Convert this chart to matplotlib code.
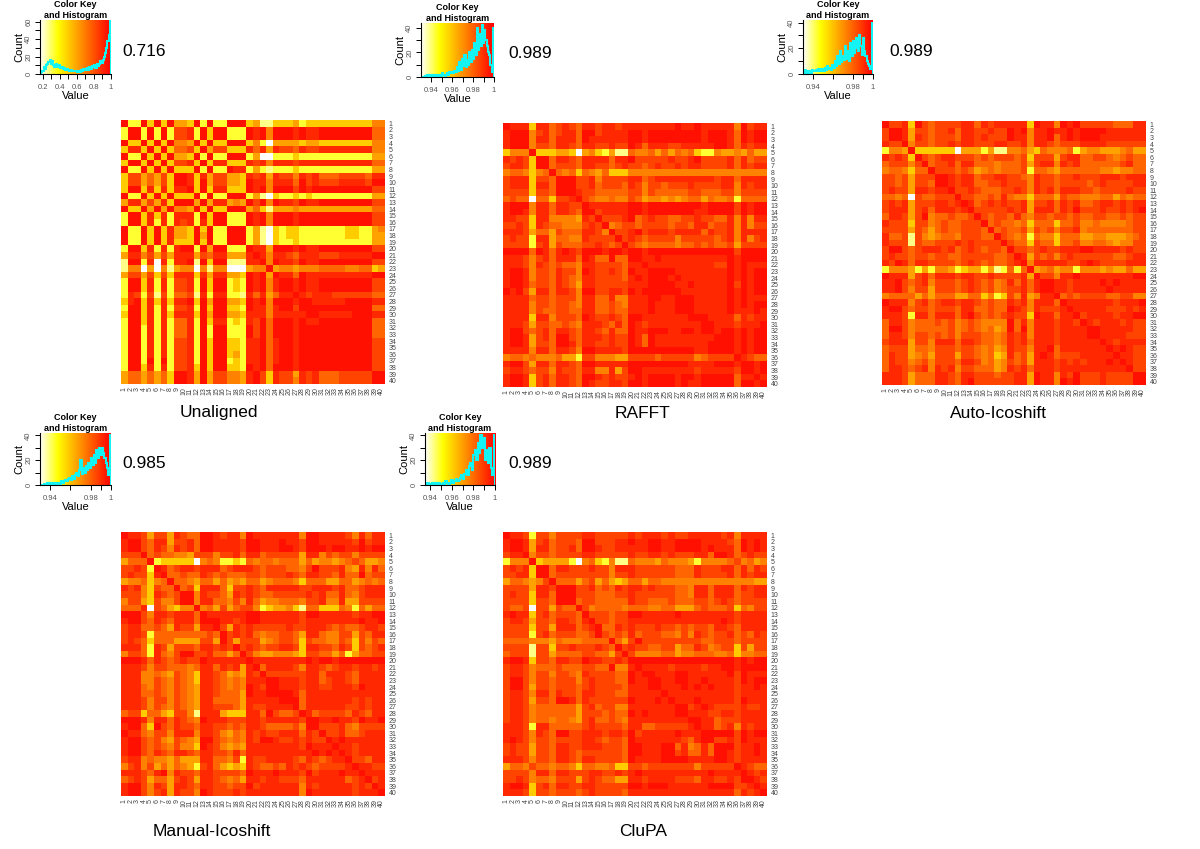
import numpy as np
import matplotlib
matplotlib.use("Agg")
import matplotlib.pyplot as plt
from matplotlib.colors import LinearSegmentedColormap

plt.rcParams['font.family'] = ['Liberation Sans', 'DejaVu Sans']

# correlation levels: 0 = red (r=1) ... 9 = white (lowest r)
unaligned = [
"0770606055 6070770006 5886665766 6666666644",
"7007070722 1706007770 1040001011 0000000033",
"7007070722 1706007770 1040001011 0000000033",
"0660606044 5060660006 4795555655 6666666644",
"6116060633 2605226661 3151223122 1111111144",
"0770606055 6070770007 5997776777 7777777755",
"6006060622 1606116661 2141112111 1111111133",
"0770606066 6070770117 5787776777 7777777755",
"6225352600 1615225561 2151224121 3332222311",
"6225352600 1605225560 1141113021 2221111200",
"6006161611 0606116660 1040002010 0000000022",
"0770606066 6070770007 5896776767 7777777755",
"5115251600 0505115450 2040112011 0000000022",
"0660505044 5060660005 3685554555 5555555533",
"7006161711 1706007770 1040001000 0000000022",
"7006171712 1716007770 1040001000 0000000022",
"0770606155 6060770007 5896766777 7777667754",
"0770606155 6050770007 5896766777 7777667755",
"0770606166 6060770007 5896776777 7777777755",
"7006171710 0705007770 1150001011 0000000022",
"5114252511 1523115551 0141123111 2221111100",
"8007191711 0806008881 1040112011 0000000022",
"8449594854 4948449995 4405445444 3333443365",
"5225262611 1615115560 1050113011 1111111100",
"7006171722 1706007670 1041001011 0000000022",
"7006171722 1706007670 1041001011 0000000022",
"7127282733 2817117781 3153110121 1122222233",
"6106161611 0605005560 1040001001 1111000011",
"7006171722 1706006670 1141002000 0000000033",
"6006171611 1605005561 1141111100 1111100011",
"7006171733 1706117671 2030001011 0000000033",
"7007171733 1707007770 2030001000 0000000033",
"7007171733 1707007770 2030001000 0000000033",
"7007171722 1706006671 1031001000 0000000022",
"7007171722 1706006671 1031001000 0000000022",
"7007171722 1706006571 1031001000 0000000022",
"7007070722 1706007671 1031001000 0000000022",
"7006171722 1606006670 1030001000 0000000022",
"5335353600 1505224451 0261225121 3332222200",
"5335353600 1505224451 0261224121 3332222200",
]
rafft = [
"0111611321 2311211211 1111110110 1111140211",
"1000421321 1300211110 0100000000 1000130100",
"1000411311 1301111110 0100000000 1000130100",
"1000422311 2311221220 1311122111 1100131211",
"6444066655 6954675883 4435353436 7745545355",
"1212600311 2311113110 2222212210 2222131322",
"2112600322 2311223212 2321221211 2222131211",
"4334643034 3634536664 4444444444 4444444444",
"2111622300 0221422221 1321111111 1121131111",
"2111611300 0221322231 2422322212 2221141211",
"2222622300 0122333332 2423333322 3332242222",
"3233933622 1023443442 3544545433 5344373333",
"1000411311 2201111110 0100000000 1000020100",
"1001411311 2300211110 0100000001 1000020100",
"1122611444 4512022210 3212233221 2233141411",
"2212612334 4421204322 3222232231 1322141422",
"1112533523 3311240221 0211121111 3122141111",
"2122711533 4412222021 2322224222 2232141421",
"2222721523 3322123202 3433334332 3233252222",
"0000301310 1200010010 0100000000 0000020000",
"1112421311 1301330330 0110111111 1111010000",
"1112412323 3411222231 1011111111 1122010111",
"1001422312 2401221230 1100001111 1111010100",
"1001422312 3411222231 0100010111 1111010100",
"1001322312 3511222221 1100001101 1111020100",
"0102511311 2400221120 1000000111 1111010100",
"1111322322 2411331441 1100110001 1111010111",
"1111422322 3411332341 1101110001 1111010100",
"1111423322 3311332331 1101110001 1111011101",
"1111611422 2301221230 0111111100 0111131211",
"1112522332 3411123130 1211111111 0011121110",
"1002321311 2311231330 1100011001 0010010100",
"1001521300 2311121220 1301111111 1100010100",
"1001522300 1311221220 1301111111 1000010100",
"1111411311 2400111120 0000000001 1000010100",
"4334344435 5722444552 2223222224 3222201233",
"1002511311 2300111110 0000000011 1100010010",
"2112322412 2311441520 0111111112 1111120010",
"1001621311 2300121221 0100001001 0000031101",
"1001621311 2301221120 0100001011 0000030010",
]
auto_icoshift = [
"0221602322 2211312111 1160114010 2222233311",
"2001522322 1311221220 1041101101 0000111111",
"2001512322 2311212220 1141103101 0001111111",
"1220422322 1211222112 2141123222 1111222222",
"7445066666 6955575884 4356344437 5445554355",
"1212602321 1222323222 3262225211 3322343233",
"3222420322 1311333433 3252114121 3333332133",
"4334633022 2323543433 3273345333 3334454433",
"2232522200 1211322112 2341223221 2221112111",
"2232522300 1211332212 2241223222 2321222211",
"2122511211 0221233322 1241213111 2232222122",
"3343923322 2022332313 4463335233 4443353433",
"2121522211 2101321212 2152213121 3321121211",
"2111521311 1210222221 2151113120 2221221210",
"3112520433 2332023223 1342232232 3322332322",
"1222622432 3322203233 4363336332 4434444322",
"2222523532 3322230323 3252324221 4333333322",
"1332824543 3422233023 4373446333 5544555432",
"1222823322 2121222202 3362336332 4433454422",
"2002321112 1321232230 2232122111 0011112122",
"2122322322 3322222332 0152324212 2222233211",
"1201311222 2321232332 1041111122 1012222111",
"7444575744 5765575873 7305435447 4445455355",
"0111521311 1211221222 2150224110 1111111100",
"1102321422 2321232431 3131001121 1110101111",
"1102422522 2321232432 2131001121 1111011111",
"4333353533 3553364762 4154110323 2222332244",
"0111421321 1211232331 2141113011 1111121110",
"1002322322 2311332330 1241222101 1111222121",
"1112711311 1310232321 2260113110 2111121100",
"3112433323 2432344440 3141112112 0121112122",
"3002433333 2432343540 3041112111 1001111122",
"3112422323 2422233431 2141112111 1001111222",
"2111522411 1311233431 2131112111 1110121111",
"3222533422 2322343541 2241103111 1111010122",
"3122543522 2522343651 3251013222 1111101122",
"3122432422 2311243542 3251112121 2111010122",
"3112321412 1422333541 2131112111 1111111022",
"1112533311 2311222322 1150114120 2221222200",
"1112533311 2310222222 1150114010 2221222200",
]
manual_icoshift = [
"0112522512 3300121140 1111111400 1111241311",
"1002311522 1300111120 0111011200 1111120211",
"1002312412 1300111120 0111001200 0100110100",
"2220323344 5222422131 1322222511 4232242222",
"5333076666 6943477673 4334333535 4454323554",
"2212701321 1211132111 2322233420 2221451413",
"2122610332 3312323332 2322212311 2231330322",
"5443643033 4533535453 3543334633 3553354343",
"1214623303 2611136221 2311111221 1121332111",
"2224612320 0412235121 2332222212 1331342111",
"4225624420 0411334241 3544333422 1441552222",
"3331923564 4043525322 4765546833 6663473533",
"0002411211 1301111110 0111111200 1111121100",
"1002312311 1300011210 0111111211 1111110110",
"2113323512 2511025121 2222212211 1232332112",
"2112733333 3332302121 3433223511 3442252311",
"2123633355 5522502522 2543223623 3442362423",
"1113712522 2311212021 2322112611 2231262321",
"4223713420 0221335302 4554445622 3353753322",
"0001312321 2201111110 1111111101 0010000000",
"1112422333 4311312151 0311112411 2321121121",
"1114434523 4611235451 2022222211 3111231111",
"1114423423 4611234341 1100111211 3211231111",
"1113423423 4511234340 1200111211 2211120111",
"1113323423 4511233350 1100001311 1111111111",
"1112422423 4511333351 1111000311 1111121211",
"1112423423 4511222351 2211110311 1111221211",
"3226335622 4811156661 1302332013 2222312311",
"0001411312 3401112221 1211111200 1101120110",
"1003602312 2311223231 1233332400 2221342222",
"0113422411 1411245341 2122111312 0221332111",
"1002324523 4500234341 2001221212 2010111111",
"1002323424 4601245451 1111111201 1101121111",
"1002312311 2311223131 1111111110 1010121111",
"2114344535 5511334271 2211112312 3211022311",
"4214253534 5721356561 2332312123 2222101122",
"1112310412 2311222230 1110111202 1110110111",
"3212533521 2511234351 1211222311 1111321021",
"1002412511 2311223220 2111111412 1111121201",
"1002421512 2401222121 1111111401 1111121110",
]
clupa = [
"0112722422 2211222221 2111212211 1112141111",
"1001521322 2300222110 1100110000 1111230101",
"1001511322 1300122111 1100110000 1011130101",
"2110422322 2211222221 2211212221 1300132122",
"7444065555 7943674883 4445344457 4444324354",
"2121600311 2221224111 2222223331 2221131312",
"2211600322 2222224221 2222223331 2222131211",
"5334542033 3532535653 3533444444 4444444455",
"2222511200 0221323121 1212223341 1311131211",
"2122611300 0222333221 2222223341 1311132211",
"2222622300 0322333331 2233323332 2321232222",
"2332922523 3024333343 3344335553 2333263422",
"1011621322 2302223220 0111110111 1111121111",
"2112522311 2310223221 1111111111 1110121111",
"2222622511 1321033121 2221223232 2311231111",
"2222721322 2332023231 3222334241 2322132312",
"3333444534 4433330352 0222222222 3322232222",
"2222822622 1222123021 2233225331 2432262522",
"3222822533 3322335202 4444335443 3344364433",
"1001622311 2201122120 0000000000 0000010100",
"2112433323 3322330441 0111121111 2110010000",
"2112422422 3412222330 1001110011 1111020111",
"2002422322 2421222330 1100110011 0111120100",
"2002522322 2321222231 1100111010 1011121101",
"2112411312 2311222331 1111011111 1111121111",
"2112522300 1312222220 1110101110 1111120111",
"2112433333 3521322441 1111110021 0122221221",
"2112433333 3522232330 1011110011 1221121111",
"2112433433 4521332341 1111111100 1132221111",
"1112711333 3321222231 1332222210 1132141211",
"1112412300 2211121120 2111110111 0000020100",
"1012422322 2211232230 1111111231 0022120111",
"2122522311 2211122230 0111003143 1300021101",
"2122522311 2322222230 0111002133 1300121101",
"1112422311 2311222230 1111000011 1100121111",
"5334233433 4633443662 2322222224 2222201233",
"2222411311 2221122121 0111111111 1011110121",
"2212433422 2521233551 1211112223 1122120012",
"1001621311 2211222220 0100011111 1000022101",
"1112622322 2321222231 1111111111 1111131210",
]

hist_a = [0,2,4,8,6,10,12,14,16,12,15,10,8,12,9,8,10,7,8,6,7,5,6,5,4,4,5,4,3,3,4,2,3,2,5,4,6,5,6,7,5,8,6,9,8,10,7,12,9,11,15,13,16,20,24,30,38,45,62]
hist_b = [0,0,0,1,0,2,1,2,1,1,2,1,0,2,1,2,1,3,2,1,2,3,2,4,3,4,3,5,4,8,5,12,6,15,9,18,8,14,10,20,12,22,15,28,18,40,22,35,25,42,28,38,30,25,20,18,10,4,40]
hist_c = [0,3,1,2,1,2,1,3,2,2,3,2,4,2,3,4,2,5,3,6,4,5,3,7,5,10,6,14,8,18,9,14,11,22,12,18,10,24,14,26,16,20,28,18,30,22,15,28,18,14,10,8,6,4,40]
hist_d = [0,0,0,1,0,2,1,2,0,1,2,1,1,2,1,1,3,2,3,4,3,5,6,4,7,5,8,10,7,12,20,9,14,10,15,12,18,14,22,16,24,18,28,22,30,24,30,26,22,18,14,8,40]
hist_e = [2,1,2,1,0,2,1,2,1,2,1,1,2,1,3,2,1,2,4,2,3,5,3,4,6,8,5,9,12,8,15,18,12,24,28,20,34,26,40,30,38,20,28,18,30,14,8,40]

panel_names = ["Unaligned", "RAFFT", "Auto-Icoshift", "Manual-Icoshift", "CluPA"]
panel_scores = ["0.716", "0.989", "0.989", "0.985", "0.989"]
panel_vmin = [0.17, 0.93, 0.93, 0.93, 0.935]
panel_xticks = [[0.2, 0.4, 0.6, 0.8, 1.0], [0.94, 0.96, 0.98, 1.0], [0.94, 0.98, 1.0], [0.94, 0.98, 1.0], [0.94, 0.96, 0.98, 1.0]]
panel_xlabels = [["0.2", "0.4", "0.6", "0.8", "1"], ["0.94", "0.96", "0.98", "1"], ["0.94", "0.98", "1"], ["0.94", "0.98", "1"], ["0.94", "0.96", "0.98", "1"]]
panel_xminor = [[0.3, 0.5, 0.7, 0.9], [0.95, 0.97, 0.99], [0.96, 0.99], [0.96, 0.99], [0.95, 0.97, 0.99]]
panel_ymax = [62, 44, 42, 42, 42]
panel_yticks = [[0, 20, 40, 60], [0, 20, 40], [0, 20, 40], [0, 20, 40], [0, 20, 40]]
panel_yminor = [[10, 30, 50], [10, 30], [10, 30], [10, 30], [10, 30]]
matrices = [unaligned, rafft, auto_icoshift, manual_icoshift, clupa]
hists = [hist_a, hist_b, hist_c, hist_d, hist_e]
labels = [str(i) for i in range(1, 41)]
level_pos = [0.05, 0.12, 0.2, 0.3, 0.38, 0.48, 0.6, 0.8, 0.88, 1.0]

W, H = 1200, 849
# pixel boxes: heatmap (x0, y0, x1, y1), key, score xy, caption xy
heat_box = [(121, 120, 385, 384), (503, 123, 767, 387), (882, 121, 1146, 385), (121, 532, 385, 796), (503, 532, 767, 796)]
key_box = [(40, 20, 111, 74), (421, 23, 494, 77), (803, 20, 873, 74), (40, 433, 111, 485), (425, 433, 495, 485)]
score_xy = [(122, 51), (508, 54), (889, 52), (122, 463), (508, 463)]
caption_xy = [(219, 413), (642, 413), (998, 413), (212, 832), (643, 832)]

heat = LinearSegmentedColormap.from_list("heat", [(0, "#ffffff"), (0.25, "#ffff00"), (1, "#ff0000")])


def box_axes(fig, box):
    x0, y0, x1, y1 = box
    return fig.add_axes([x0 / W, 1 - y1 / H, (x1 - x0) / W, (y1 - y0) / H])


fig = plt.figure(figsize=(W / 100, H / 100), dpi=100, facecolor="white")

for i in range(5):
    grid = np.array([[level_pos[int(c)] for c in r.replace(" ", "")] for r in matrices[i]], dtype=float)
    vals = 1 - grid * (1 - panel_vmin[i])
    ax = box_axes(fig, heat_box[i])
    ax.imshow(vals, cmap=heat, vmin=panel_vmin[i], vmax=1, aspect="auto", interpolation="nearest")
    ax.set_xticks(range(40))
    ax.set_xticklabels(labels, rotation=90, fontsize=5, color="#444444")
    ax.yaxis.tick_right()
    ax.set_yticks(range(40))
    ax.set_yticklabels(labels, fontsize=5, color="#444444")
    ax.tick_params(length=0, pad=2.5)
    for s in ax.spines.values():
        s.set_visible(False)

    key = box_axes(fig, key_box[i])
    vmin = panel_vmin[i]
    key.imshow(np.linspace(vmin, 1, 256).reshape(1, -1), cmap=heat, vmin=vmin, vmax=1, aspect="auto",
               extent=(vmin, 1, 0, panel_ymax[i]))
    counts = hists[i]
    edges = np.linspace(vmin, 1, len(counts) + 1)
    key.stairs(counts, edges, color="#14f4f4", lw=1.5)
    key.set_xlim(vmin, 1)
    key.set_ylim(0, panel_ymax[i])
    key.set_xticks(panel_xticks[i])
    key.set_xticks(panel_xminor[i], minor=True)
    key.set_xticklabels(panel_xlabels[i], fontsize=5.5, color="#555555")
    key.set_yticks(panel_yticks[i])
    key.set_yticks(panel_yminor[i], minor=True)
    key.set_yticklabels([str(t) for t in panel_yticks[i]], fontsize=5.5, color="#555555", rotation=90, va="center")
    key.tick_params(which="both", length=3.5, width=0.7)
    key.tick_params(axis="x", which="both", pad=3.5)
    key.tick_params(axis="y", which="both", pad=2)
    for s in ["top", "right"]:
        key.spines[s].set_visible(False)
    key.set_xlabel("Value", fontsize=8, labelpad=0.5)
    key.set_ylabel("Count", fontsize=8, labelpad=1)
    key.set_title("Color Key\nand Histogram", fontsize=6.5, fontweight="bold", pad=-4, linespacing=1.25)

    fig.text(score_xy[i][0] / W, 1 - score_xy[i][1] / H, panel_scores[i], fontsize=12.5, va="center", ha="left")
    fig.text(caption_xy[i][0] / W, 1 - caption_xy[i][1] / H, panel_names[i], fontsize=12.5, va="center", ha="center")

fig.savefig("out.png", dpi=100)
